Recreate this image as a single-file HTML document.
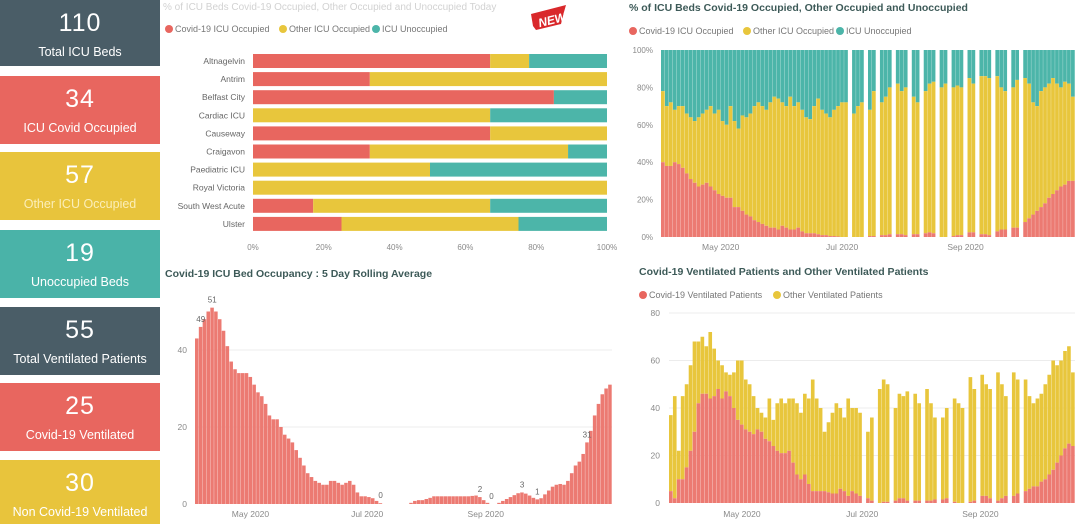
<!DOCTYPE html>
<html><head><meta charset="utf-8">
<style>
html,body{margin:0;padding:0;background:#fff;width:1080px;height:524px;overflow:hidden;font-family:"Liberation Sans",sans-serif}
.card{position:absolute;left:0;width:160px;color:#fff;text-align:center}
.card .v{font-size:25px;line-height:28px;padding-top:9px;letter-spacing:1px}
.card .l{font-size:12.5px;line-height:16px;margin-top:7px;white-space:nowrap}
svg{position:absolute;left:0;top:0}
text{font-family:"Liberation Sans",sans-serif}
</style></head><body>
<div class="card" style="top:0;height:66px;background:#4a5d67"><div class="v">110</div><div class="l">Total ICU Beds</div></div>
<div class="card" style="top:76px;height:68px;background:#e8665f"><div class="v">34</div><div class="l">ICU Covid Occupied</div></div>
<div class="card" style="top:152px;height:68px;background:#e8c43c;color:#fbeeb8"><div class="v" style="color:#fff">57</div><div class="l">Other ICU Occupied</div></div>
<div class="card" style="top:230px;height:68px;background:#4ab3a8"><div class="v">19</div><div class="l">Unoccupied Beds</div></div>
<div class="card" style="top:307px;height:68px;background:#4a5d67"><div class="v">55</div><div class="l">Total Ventilated Patients</div></div>
<div class="card" style="top:383px;height:68px;background:#e8665f"><div class="v">25</div><div class="l">Covid-19 Ventilated</div></div>
<div class="card" style="top:460px;height:64px;background:#e8c43c"><div class="v">30</div><div class="l">Non Covid-19 Ventilated</div></div>

<svg id="s" width="1080" height="524" xmlns="http://www.w3.org/2000/svg"></svg>

<script>
// ---------- Chart 1: hospital stacked 100% bars ----------
const hospitals=["Altnagelvin","Antrim","Belfast City","Cardiac ICU","Causeway","Craigavon","Paediatric ICU","Royal Victoria","South West Acute","Ulster"];
const hospCovid=[67,33,85,0,67,33,0,0,17,25];
const hospOther=[11,67,0,67,33,56,50,100,50,50];
const hospUnocc=[22,0,15,33,0,11,50,0,33,25];
const pctTicks=["0%","20%","40%","60%","80%","100%"];

// ---------- Chart 2: daily % ICU beds (2-day buckets, null = no data) ----------
const occCovidPct=[40,38,38,40,39,37,34,31,29,27,28,29,27,25,23,22,21,21,16,16,14,12,11,9,8,7,6,5,5,4,6,5,4,4,5,3,2,2,2,1.5,1,1,0.5,0.5,0.3,0,0,
null,0,0,0,null,0.5,0.5,null,1,1,1.5,null,1.5,1.5,1,null,1.5,1.5,null,2,2.5,2,null,0,0,null,0.5,1,1,null,2.5,2.5,null,1.5,1.5,1,null,3,4,4,null,5,5,null,
8,10,12,14,16,18,21,23,25,27,28,30,30];
const occOtherPct=[38,32,34,28,31,33,32,33,33,37,38,39,43,41,45,40,39,49,46,42,51,52,55,61,64,63,62,67,70,70,66,65,71,66,67,65,62,61,68,72.5,67,65,63.5,67.5,69.7,72,72,
null,66,70,72,null,67.5,77.5,null,71,74,78.5,null,80.5,76.5,79,null,73.5,70.5,null,76,79.5,81,null,80,82,null,79.5,80,79,null,82.5,79.5,null,84.5,84.5,84,null,83,76,74,null,75,79,null,
77,72,60,56,62,62,61,62,57,53,55,52,45];
const occMonths=[{lab:"May 2020",i:15},{lab:"Jul 2020",i:45.5},{lab:"Sep 2020",i:76.5}];

// ---------- Chart 3: 5-day rolling average ----------
const rollVals=[43,46,48,50,51,50,48,45,41,37,35,34,34,34,33,31,29,28,26,23,22,22,20,18,17,16,14,12,10,8,7,6,5.5,5,5,6,6,5.5,5,5.5,6,5,3,2,2,1.8,1.5,0.8,0.2,0,0,0,0,0,0,0,0.3,0.8,1,1,1.3,1.6,2,2,2,2,2,2,2,2,2,2,2.1,2.2,1.8,1,0.3,0,0,0.3,0.8,1.3,1.8,2.3,2.8,3,2.7,2.2,1.6,1.2,1.5,2.5,3.5,4.5,5,5.2,5,6,8,10,11,13,16,19,23,26,28.5,30,31];
const rollLabelIdx=[1,4,48,74,77,85,89,102];
const rollLabelTxt=["49","51","0","2","0","3","1","31"];
const rollTicks=[0,20,40];
const rollMonths=[{lab:"May 2020",i:14.5},{lab:"Jul 2020",i:45},{lab:"Sep 2020",i:76}];

// ---------- Chart 4: ventilated patients ----------
const ventCovid=[5,2,10,10,15,22,30,42,46,46,44,45,48,44,47,45,40,35,33,31,30,29,31,30,27,26,24,22,21,21,22,17,12,10,12,8,5,5,5,5,4.5,4,4,6,5,3,5,4,3,
null,2,1,null,0,0.5,0.5,null,1,2,2,1,null,1,1,null,1,1,1.5,null,1.5,2,null,0.5,0,0,null,0.5,1,null,3,3,2,null,1,2,3,null,3,4,null,
5,6,7,7,9,10,12,14,17,20,23,25,24];
const ventOther=[32,43,12,35,35,36,38,26,24,20,28,20,12,14,8,9,15,25,27,21,20,16,9,8,9,18,11,20,23,21,22,27,30,28,34,36,47,39,35,25,29.5,34,38,34,31,41,35,36,35,
null,28,35,null,48,51.5,49.5,null,39,44,43,46,null,45,41,null,47,41,34.5,null,34.5,38,null,43.5,42,40,null,52.5,47,null,51,47,46,null,54,48,42,null,52,48,null,
47,39,35,37,37,40,42,46,41,40,41,41,31];
const ventTicks=[0,20,40,60,80];
const ventMonths=[{lab:"May 2020",i:18.5},{lab:"Jul 2020",i:49},{lab:"Sep 2020",i:79}];

const RED="#e8665f",RED2="#ec7a72",YEL="#e8c63c",TEAL="#4cb5a9",GRID="#ececec",TICK="#8a8a8a",TITLE="#3d5a58";
const svg=document.getElementById('s');
function el(tag,attrs,parent){const e=document.createElementNS("http://www.w3.org/2000/svg",tag);for(const k in attrs)e.setAttribute(k,attrs[k]);(parent||svg).appendChild(e);return e;}
function txt(x,y,s,attrs,parent){const t=el('text',Object.assign({x:x,y:y},attrs||{}),parent);t.textContent=s;return t;}
function group(name){const g=el('g',{});return g;}

function legend(gname,x,y,items){
  const g=group(gname);
  let cx=x;
  items.forEach(it=>{
    el('circle',{cx:cx+4,cy:y-3,r:4,fill:it.c},g);
    const t=txt(cx+10,y,it.t,{'font-size':9,fill:'#777'},g);
    
    
    cx+=10+it.w;
  });
}

// ===== Chart 1 =====
(function(){
  const g=group('hospital-occupancy-chart');
  const x0=253,x1=607,y0=61,pitch=18.1,bh=14;
  const xs=v=>x0+(x1-x0)*v/100;
  txt(163,10,"% of ICU Beds Covid-19 Occupied, Other Occupied and Unoccupied Today",{'font-size':10,fill:'#d2d2d2'},g);
  legend('legend-today',165,32,[{c:RED,t:"Covid-19 ICU Occupied",w:104},{c:YEL,t:"Other ICU Occupied",w:83},{c:TEAL,t:"ICU Unoccupied",w:70}]);
  const nb=group('new-badge');
  el('path',{d:"M531 14 L566 5 L564 12 L561 24 L536 30 L533 26 Z",fill:"#d9282b"},nb);
  txt(538,25,"NEW",{'font-size':12,'font-weight':'bold','font-style':'italic',fill:'#fff',transform:'rotate(-14 548 20)'},nb);
  hospitals.forEach((h,i)=>{
    const yc=y0+i*pitch;
    const l=txt(245,yc+3,h,{'font-size':8.5,fill:'#666','text-anchor':'end'},g);
    
    let acc=0;
    [[hospCovid[i],RED],[hospOther[i],YEL],[hospUnocc[i],TEAL]].forEach(([v,c],k)=>{
      if(v<=0)return;
      const r=el('rect',{x:xs(acc),y:yc-bh/2,width:xs(acc+v)-xs(acc),height:bh,fill:c},g);
      
      
      acc+=v;
    });
  });
  pctTicks.forEach((t,i)=>{txt(xs(i*20),250,t,{'font-size':8,fill:TICK,'text-anchor':'middle'},g);});
})();

// ===== Chart 2 =====
(function(){
  const g=group('daily-icu-percent-chart');
  txt(629,11,"% of ICU Beds Covid-19 Occupied, Other Occupied and Unoccupied",{'font-size':10.5,'font-weight':'bold',fill:TITLE},g);
  legend('legend-daily',629,34,[{c:RED,t:"Covid-19 ICU Occupied",w:104},{c:YEL,t:"Other ICU Occupied",w:83},{c:TEAL,t:"ICU Unoccupied",w:70}]);
  const x0=661,x1=1075,yT=50,yB=237;
  const n=Math.min(occCovidPct.length,occOtherPct.length);
  const bw=(x1-x0)/n;
  const ys=v=>yB-(yB-yT)*v/100;
  for(let p=0;p<=100;p+=20){txt(653,ys(p)+3,p+"%",{'font-size':8,fill:TICK,'text-anchor':'end'},g);}
  for(let i=0;i<n;i++){
    const c=occCovidPct[i],o=occOtherPct[i];
    if(c==null||o==null)continue;
    const x=x0+i*bw;
    const r1=el('rect',{x:x,y:ys(100),width:bw-0.25,height:ys(c+o)-ys(100),fill:TEAL},g);
    
    
    const r2=el('rect',{x:x,y:ys(c+o),width:bw-0.25,height:ys(c)-ys(c+o),fill:YEL},g);
    
    
    const r3=el('rect',{x:x,y:ys(c),width:bw-0.25,height:yB-ys(c),fill:RED2},g);
    
    
  }
  occMonths.forEach(m=>txt(x0+m.i*bw,250,m.lab,{'font-size':8.5,fill:TICK,'text-anchor':'middle'},g));
})();

// ===== Chart 3 =====
(function(){
  const g=group('rolling-average-chart');
  txt(165,277,"Covid-19 ICU Bed Occupancy : 5 Day Rolling Average",{'font-size':10.5,'font-weight':'bold',fill:TITLE},g);
  const x0=195,x1=612,yB=504,per=3.85;
  const ys=v=>yB-v*per;
  const n=rollVals.length,bw=(x1-x0)/n;
  rollTicks.forEach(t=>{
    if(t>0)el('line',{x1:x0,x2:x1,y1:ys(t),y2:ys(t),stroke:GRID,'stroke-width':1},g);
    txt(187,ys(t)+3,String(t),{'font-size':8.5,fill:TICK,'text-anchor':'end'},g);
  });
  rollVals.forEach((v,i)=>{
    const r=el('rect',{x:x0+i*bw,y:ys(v),width:bw-0.3,height:yB-ys(v),fill:RED2},g);
    
    
  });
  rollLabelIdx.forEach((idx,k)=>{
    const t=txt(x0+idx*bw+bw/2,ys(rollVals[idx])-5,rollLabelTxt[k],{'font-size':8,fill:'#666','text-anchor':'middle'},g);
    
  });
  rollMonths.forEach(m=>txt(x0+m.i*bw,517,m.lab,{'font-size':8.5,fill:TICK,'text-anchor':'middle'},g));
})();

// ===== Chart 4 =====
(function(){
  const g=group('ventilated-patients-chart');
  txt(639,275,"Covid-19 Ventilated Patients and Other Ventilated Patients",{'font-size':10.5,'font-weight':'bold',fill:TITLE},g);
  legend('legend-ventilated',639,298,[{c:RED,t:"Covid-19 Ventilated Patients",w:124},{c:YEL,t:"Other Ventilated Patients",w:110}]);
  const x0=669,x1=1075,yB=503,per=(503-313)/80;
  const ys=v=>yB-v*per;
  const n=Math.min(ventCovid.length,ventOther.length),bw=(x1-x0)/n;
  ventTicks.forEach(t=>{
    if(t>0)el('line',{x1:x0,x2:x1,y1:ys(t),y2:ys(t),stroke:GRID,'stroke-width':1},g);
    txt(660,ys(t)+3,String(t),{'font-size':8.5,fill:TICK,'text-anchor':'end'},g);
  });
  for(let i=0;i<n;i++){
    const c=ventCovid[i],o=ventOther[i];
    if(c==null||o==null)continue;
    const x=x0+i*bw;
    const r1=el('rect',{x:x,y:ys(c+o),width:bw-0.3,height:ys(c)-ys(c+o),fill:YEL},g);
    
    
    const r2=el('rect',{x:x,y:ys(c),width:bw-0.3,height:yB-ys(c),fill:RED2},g);
    
    
  }
  ventMonths.forEach(m=>txt(x0+m.i*bw,517,m.lab,{'font-size':8.5,fill:TICK,'text-anchor':'middle'},g));
})();
</script>
</body></html>
